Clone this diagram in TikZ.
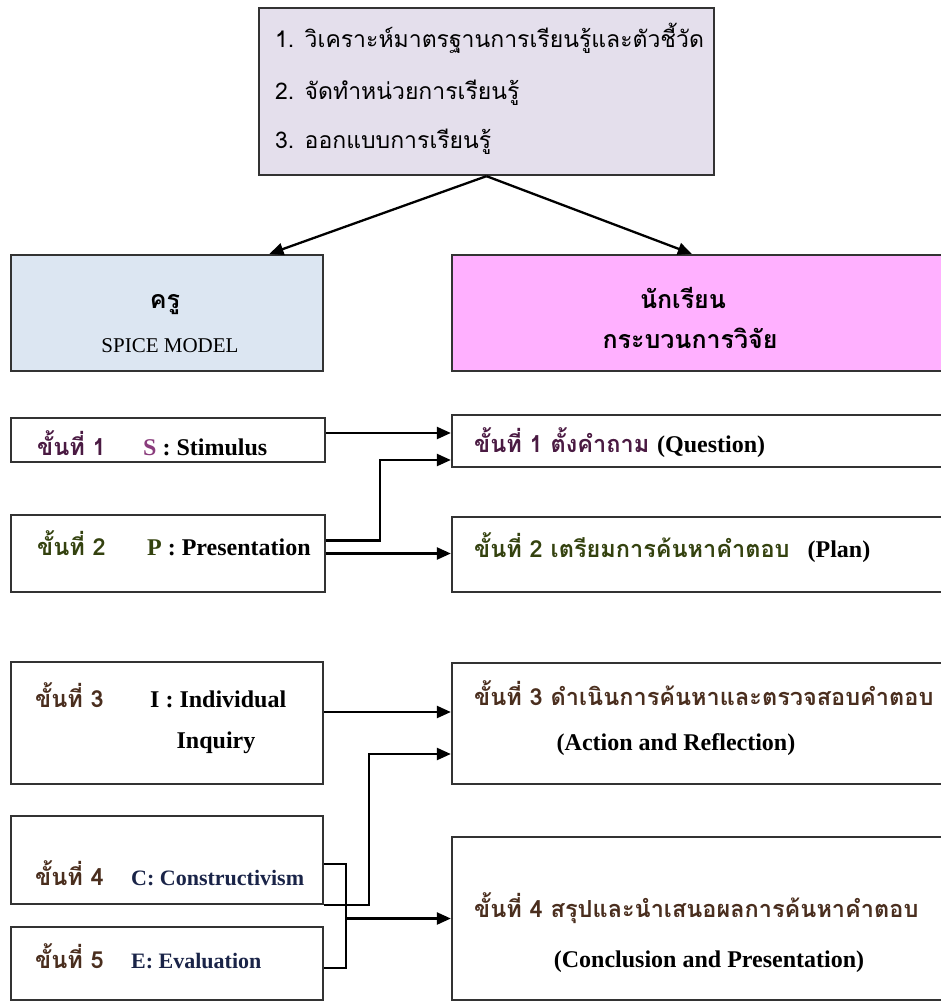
\documentclass[tikz,border=0pt]{standalone}
\usepackage{fontspec}
\setmainfont{Liberation Serif}
\newfontfamily\thaifont[Script=Thai]{Loma}
\usetikzlibrary{arrows.meta}
\definecolor{topfill}{HTML}{E4DFEC}
\definecolor{teachfill}{HTML}{DCE6F2}
\definecolor{studfill}{HTML}{FFB0FF}
\definecolor{txtpurple}{HTML}{4A1A42}
\definecolor{txtolive}{HTML}{34420F}
\definecolor{txtbrown}{HTML}{4A2E1E}
\definecolor{txtnavy}{HTML}{1A2448}
\definecolor{letterS}{HTML}{8A3C7C}
\newcommand{\latpart}[1]{{\fontsize{24}{28}\selectfont\rmfamily\bfseries #1}}
\tikzset{
  box/.style={draw=black!80,line width=2.3pt},
  arr/.style={line width=2.3pt,-{Triangle[length=14pt,width=12pt]}},
  topline/.style={anchor=base west,inner sep=0pt,font=\fontsize{23}{28}\selectfont\thaifont},
  headth/.style={anchor=base,inner sep=0pt,font=\fontsize{25}{30}\selectfont\thaifont\bfseries},
  headlat/.style={anchor=base,inner sep=0pt,font=\fontsize{21}{25}\selectfont\rmfamily},
  stepth/.style={anchor=base west,inner sep=0pt,font=\fontsize{23.5}{28}\selectfont\thaifont\bfseries},
  steplat/.style={anchor=base west,inner sep=0pt,font=\fontsize{24}{28}\selectfont\rmfamily\bfseries},
}
\begin{document}
\begin{tikzpicture}[x=1pt,y=-1pt,line join=miter]
  \useasboundingbox (0,0) rectangle (940,1001);
  % design box at the top
  \node[box,fill=topfill,minimum width=455pt,minimum height=167pt] (design) at (486.5,91.5) {};
  \node[topline] (designa) at (275,47) {1. วิเคราะห์มาตรฐานการเรียนรู้และตัวชี้วัด};
  \node[topline] (designb) at (275,99) {2. จัดทำหน่วยการเรียนรู้};
  \node[topline] (designc) at (275,148) {3. ออกแบบการเรียนรู้};
  % teacher and student
  \node[box,fill=teachfill,minimum width=312pt,minimum height=116pt] (teacher) at (167,313) {};
  \node[headth] (teachth) at (165,308) {ครู};
  \node[headlat] (teachmodel) at (170,352) {SPICE MODEL};
  \node[box,fill=studfill,minimum width=500pt,minimum height=116pt] (student) at (702,313) {};
  \node[headth] (studth) at (683,308) {นักเรียน};
  \node[headth] (studproc) at (690,348) {กระบวนการวิจัย};
  \draw[arr] (design.south) -- (teacher.30);
  \draw[arr] (design.south) -- ([xshift=241pt]student.north west);
  % SPICE steps
  \node[box,minimum width=314pt,minimum height=44pt] (stim) at (168,440) {};
  \node[stepth,text=txtpurple] (stimno) at (37,455) {ขั้นที่ 1};
  \node[steplat] (stimtx) at (143,455) {\textcolor{letterS}{S} : Stimulus};
  \node[box,minimum width=314pt,minimum height=77pt] (pres) at (168,553.5) {};
  \node[stepth,text=txtolive] (presno) at (37,555) {ขั้นที่ 2};
  \node[steplat] (prestx) at (147,555) {\textcolor{txtolive}{P} : Presentation};
  \node[box,minimum width=312pt,minimum height=122pt] (indiv) at (167,723) {};
  \node[stepth,text=txtbrown] (indivno) at (35,707) {ขั้นที่ 3};
  \node[steplat] (indivtx) at (150,707) {I : Individual};
  \node[steplat,anchor=base] (indivtxb) at (216,748) {Inquiry};
  \node[box,minimum width=312pt,minimum height=88pt] (constr) at (167,860) {};
  \node[stepth,text=txtbrown] (constrno) at (35,885) {ขั้นที่ 4};
  \node[steplat,text=txtnavy,font=\fontsize{22}{26}\selectfont\rmfamily\bfseries] (constrtx) at (131,885) {C: Constructivism};
  \node[box,minimum width=312pt,minimum height=73pt] (evalb) at (167,963.5) {};
  \node[stepth,text=txtbrown] (evalno) at (35,968) {ขั้นที่ 5};
  \node[steplat,text=txtnavy,font=\fontsize{22}{26}\selectfont\rmfamily\bfseries] (evaltx) at (131,968) {E: Evaluation};
  % research steps
  \node[box,minimum width=500pt,minimum height=52pt] (quest) at (702,441) {};
  \node[stepth,text=txtpurple] (questtx) at (474,452) {ขั้นที่ 1 ตั้งคำถาม \textcolor{black}{\latpart{(Question)}}};
  \node[box,minimum width=500pt,minimum height=75pt] (prep) at (702,554.5) {};
  \node[stepth,text=txtolive] (preptx) at (474,557) {ขั้นที่ 2 เตรียมการค้นหาคำตอบ\hspace{18pt}\textcolor{black}{\latpart{(Plan)}}};
  \node[box,minimum width=500pt,minimum height=121pt] (action) at (702,723.5) {};
  \node[stepth,text=txtbrown] (actiontx) at (474,705) {ขั้นที่ 3 ดำเนินการค้นหาและตรวจสอบคำตอบ};
  \node[steplat,anchor=base] (actiontxb) at (676,750) {(Action and Reflection)};
  \node[box,minimum width=500pt,minimum height=163pt] (concl) at (702,918.5) {};
  \node[stepth,text=txtbrown] (concltx) at (474,917) {ขั้นที่ 4 สรุปและนำเสนอผลการค้นหาคำตอบ};
  \node[steplat,anchor=base] (concltxb) at (709,967) {(Conclusion and Presentation)};
  % connectors
  \draw[arr] ([yshift=7pt]stim.east) -- ([yshift=7pt]stim.east -| quest.west);
  \draw[arr] ([yshift=13pt]pres.east) -- ++(54,0) |- ([yshift=-19pt]quest.west);
  \draw[arr] (pres.east) -- (pres.east -| prep.west);
  \draw[arr] ([yshift=11pt]indiv.east) -- ([yshift=11pt]indiv.east -| action.west);
  \draw[arr] (constr.south east) -- ++(45,0) |- ([yshift=-30.5pt]action.west);
  \draw[line width=2.3pt] ([yshift=-4pt]constr.east) -- ++(22,0) coordinate (brtop) |- ([yshift=-4.5pt]evalb.east);
  \draw[arr] (brtop |- concl.west) -- (concl.west);
\end{tikzpicture}
\end{document}
